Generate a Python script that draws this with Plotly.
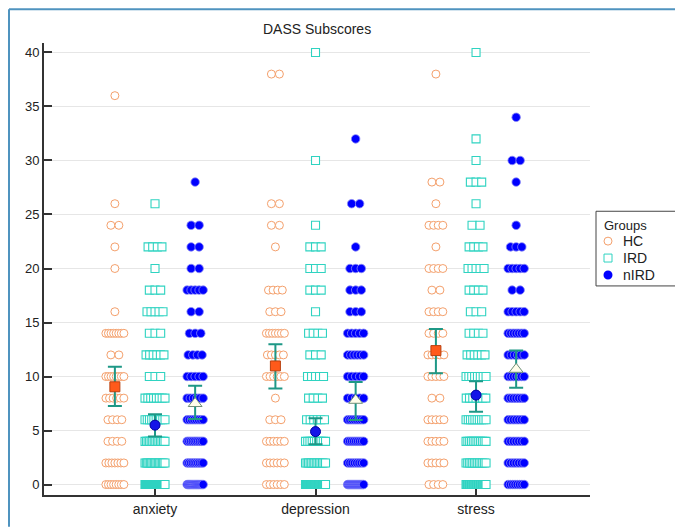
import numpy as np
import plotly.graph_objects as go

# ---------------- data ----------------
CATEGORIES = ["anxiety", "depression", "stress"]
GROUPS = ["HC", "IRD", "nIRD"]
SCORES = list(range(0, 42, 2))  # score levels 0, 2, ..., 40

# number of participants at each score level (0,2,...,40)
HC_ANXIETY      = [8, 7, 4, 4, 6, 8, 2, 8, 1, 0, 1, 1, 2, 1, 0, 0, 0, 0, 1, 0, 0]
HC_DEPRESSION   = [6, 6, 6, 3, 1, 6, 5, 7, 3, 4, 0, 1, 2, 2, 0, 0, 0, 0, 0, 2, 0]
HC_STRESS       = [4, 5, 5, 5, 2, 5, 5, 4, 4, 2, 4, 1, 4, 1, 2, 0, 0, 0, 0, 1, 0]
IRD_ANXIETY     = [41, 16, 14, 10, 8, 3, 6, 3, 5, 3, 1, 4, 0, 1, 0, 0, 0, 0, 0, 0, 0]
IRD_DEPRESSION  = [56, 14, 10, 6, 4, 5, 3, 4, 1, 3, 3, 3, 1, 0, 0, 1, 0, 0, 0, 0, 1]
IRD_STRESS      = [30, 13, 12, 10, 7, 8, 6, 4, 3, 4, 5, 4, 2, 1, 3, 1, 1, 0, 0, 0, 1]
NIRD_ANXIETY    = [16, 10, 10, 8, 6, 5, 4, 3, 2, 5, 2, 2, 2, 0, 1, 0, 0, 0, 0, 0, 0]
NIRD_DEPRESSION = [17, 8, 9, 8, 5, 5, 6, 5, 3, 3, 3, 1, 0, 2, 0, 0, 1, 0, 0, 0, 0]
NIRD_STRESS     = [8, 7, 7, 7, 7, 7, 6, 7, 5, 2, 5, 3, 1, 0, 1, 2, 0, 1, 0, 0, 0]

# group means with 95% CI (anxiety, depression, stress)
HC_MEAN   = [9.05, 10.98, 12.4]
HC_LO     = [7.26, 8.9, 10.3]
HC_HI     = [10.9, 12.98, 14.4]
IRD_MEAN  = [5.5, 4.9, 8.28]
IRD_LO    = [4.44, 3.73, 6.75]
IRD_HI    = [6.5, 6.13, 9.57]
NIRD_MEAN = [7.5, 7.8, 10.67]
NIRD_LO   = [6.07, 5.97, 8.96]
NIRD_HI   = [9.14, 9.5, 12.4]

COUNTS = {
    "HC": [HC_ANXIETY, HC_DEPRESSION, HC_STRESS],
    "IRD": [IRD_ANXIETY, IRD_DEPRESSION, IRD_STRESS],
    "nIRD": [NIRD_ANXIETY, NIRD_DEPRESSION, NIRD_STRESS],
}
STATS = {
    "HC": (HC_MEAN, HC_LO, HC_HI),
    "IRD": (IRD_MEAN, IRD_LO, IRD_HI),
    "nIRD": (NIRD_MEAN, NIRD_LO, NIRD_HI),
}

# ---------------- layout geometry ----------------
# the page body adds an 8px margin, so the figure is 8px smaller
OFF = 8
W, H = 683 - OFF, 529 - OFF
ML, MT = 44 - OFF, 43 - OFF
PLOT_RIGHT, PLOT_BOTTOM = 590 - OFF, 497 - OFF
MR, MB = W - PLOT_RIGHT, H - PLOT_BOTTOM
PLOT_W = W - ML - MR
PLOT_H = H - MT - MB
X_RANGE = [-0.6916, 2.710]
Y_RANGE = [-0.968, 40.876]
PX_PER_X = PLOT_W / (X_RANGE[1] - X_RANGE[0])
GROUP_OFFSET = 0.25

HC_COLOR, IRD_COLOR, NIRD_COLOR = "#F4A06C", "#2FD3C1", "#0000FF"
DOT_STYLE = {
    "HC": dict(symbol="circle", size=8, color="white",
               line=dict(color=HC_COLOR, width=1)),
    "IRD": dict(symbol="square", size=8, color="white",
                line=dict(color=IRD_COLOR, width=1.1)),
    "nIRD": dict(symbol="circle", size=8.5, color=NIRD_COLOR,
                 line=dict(color="#8A8AF5", width=0.8)),
}
SPAN_CAP = {"HC": 18, "IRD": 20, "nIRD": 16}
MEAN_STYLE = {
    "HC": dict(symbol="square", size=10, color="#FF5A1A",
               line=dict(color="#B8400F", width=1)),
    "IRD": dict(symbol="circle", size=10, color="#1414E8",
                line=dict(color="#0000A0", width=1)),
    "nIRD": dict(symbol="triangle-up", size=12, color="#FFFDEA",
                 line=dict(color="#6E8F78", width=1)),
}
ERR_COLOR = "#1E9886"

fig = go.Figure()

# dot-plot points, stacked side by side at each score level
for gi, g in enumerate(GROUPS):
    xs, ys = [], []
    for ci, cat in enumerate(CATEGORIES):
        centre = ci + (gi - 1) * GROUP_OFFSET
        for score, n in zip(SCORES, COUNTS[g][ci]):
            if n == 0:
                continue
            if n == 1:
                offs = [0.0]
            else:
                span = min(8.0 * np.sqrt(n - 1), SPAN_CAP[g])
                offs = list(np.linspace(-span / 2, span / 2, n))
            for o in offs:
                xs.append(centre + o / PX_PER_X)
                ys.append(score)
    fig.add_trace(go.Scatter(
        x=xs, y=ys, mode="markers", name=g, showlegend=False,
        marker=DOT_STYLE[g], hoverinfo="y+name",
    ))

# means with 95% CI
for gi, g in enumerate(GROUPS):
    mean, lo, hi = STATS[g]
    xs = [ci + (gi - 1) * GROUP_OFFSET for ci in range(len(CATEGORIES))]
    fig.add_trace(go.Scatter(
        x=xs, y=mean, mode="markers", showlegend=False, name=g + " mean",
        marker=MEAN_STYLE[g],
        error_y=dict(type="data", symmetric=False,
                     array=[h - m for h, m in zip(hi, mean)],
                     arrayminus=[m - l for m, l in zip(mean, lo)],
                     color=ERR_COLOR, thickness=2, width=7),
    ))

FONT = "Liberation Sans, Arial, sans-serif"
TEXT_COLOR = "#222"


def px_x(px):
    """reference-page pixel x -> paper coordinate"""
    return (px - OFF - ML) / PLOT_W


def px_y(py):
    """reference-page pixel y -> paper coordinate"""
    return (PLOT_BOTTOM - (py - OFF)) / PLOT_H


shapes = []
annotations = []

# outer frame (top and left edges visible)
frame_color = "#4F93BF"
shapes.append(dict(type="line", xref="paper", yref="paper",
                   x0=px_x(9), x1=px_x(9), y0=px_y(9), y1=px_y(529),
                   line=dict(color=frame_color, width=2)))
shapes.append(dict(type="line", xref="paper", yref="paper",
                   x0=px_x(9), x1=px_x(683), y0=px_y(9), y1=px_y(9),
                   line=dict(color=frame_color, width=2)))

# title
annotations.append(dict(text="DASS Subscores", xref="paper", yref="paper",
                        x=px_x(317), y=px_y(29), xanchor="center",
                        yanchor="middle", showarrow=False,
                        font=dict(family=FONT, size=14, color=TEXT_COLOR)))

# legend box
shapes.append(dict(type="rect", xref="paper", yref="paper",
                   x0=px_x(596), x1=px_x(677), y0=px_y(212), y1=px_y(287),
                   line=dict(color="#444", width=1), fillcolor="white",
                   layer="above"))
annotations.append(dict(text="Groups", xref="paper", yref="paper",
                        x=px_x(602), y=px_y(226), xanchor="left",
                        yanchor="middle", showarrow=False,
                        font=dict(family=FONT, size=13, color=TEXT_COLOR)))
LEG_Y = [242, 259, 276]
KEY_R = 4
for g, ly in zip(GROUPS, LEG_Y):
    cx = 608
    if g == "HC":
        shapes.append(dict(type="circle", xref="paper", yref="paper",
                           x0=px_x(cx - KEY_R), x1=px_x(cx + KEY_R),
                           y0=px_y(ly - KEY_R), y1=px_y(ly + KEY_R),
                           line=dict(color=HC_COLOR, width=1),
                           fillcolor="white", layer="above"))
    elif g == "IRD":
        shapes.append(dict(type="rect", xref="paper", yref="paper",
                           x0=px_x(cx - KEY_R), x1=px_x(cx + KEY_R),
                           y0=px_y(ly - KEY_R), y1=px_y(ly + KEY_R),
                           line=dict(color=IRD_COLOR, width=1),
                           fillcolor="white", layer="above"))
    else:
        shapes.append(dict(type="circle", xref="paper", yref="paper",
                           x0=px_x(cx - KEY_R - 0.5), x1=px_x(cx + KEY_R + 0.5),
                           y0=px_y(ly - KEY_R - 0.5), y1=px_y(ly + KEY_R + 0.5),
                           line=dict(color=NIRD_COLOR, width=0),
                           fillcolor=NIRD_COLOR, layer="above"))
    annotations.append(dict(text=g, xref="paper", yref="paper",
                            x=px_x(621), y=px_y(ly), xanchor="left",
                            yanchor="middle", showarrow=False,
                            font=dict(family=FONT, size=14, color=TEXT_COLOR)))

fig.update_layout(
    width=W, height=H,
    margin=dict(l=ML, r=MR, t=MT, b=MB, pad=0),
    paper_bgcolor="white", plot_bgcolor="white",
    font=dict(family=FONT, size=13, color=TEXT_COLOR),
    showlegend=False,
    shapes=shapes,
    annotations=annotations,
    xaxis=dict(
        range=X_RANGE, tickvals=[0, 1, 2], ticktext=CATEGORIES,
        showgrid=False, zeroline=False,
        showline=True, linecolor="#333", linewidth=2,
        ticks="inside", ticklen=6, tickwidth=1.5, tickcolor="#333",
        tickfont=dict(family=FONT, size=14, color=TEXT_COLOR),
        fixedrange=True,
    ),
    yaxis=dict(
        range=Y_RANGE, tickvals=list(range(0, 45, 5)),
        showgrid=True, gridcolor="#E6E6E6", gridwidth=1, zeroline=False,
        showline=True, linecolor="#333", linewidth=2,
        ticks="inside", ticklen=8, tickwidth=2, tickcolor="#333",
        tickfont=dict(family=FONT, size=13, color=TEXT_COLOR),
        fixedrange=True,
    ),
)

fig.write_html("out.html")
